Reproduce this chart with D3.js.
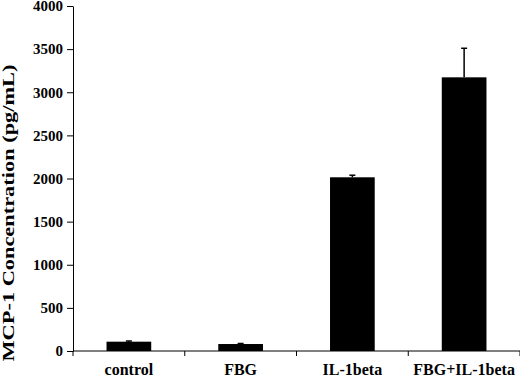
<!doctype html>
<html>

<head>
    <meta charset="utf-8">
    <title>MCP-1</title>
    <style>
    body { margin: 0; background: #fff; }
    text { font-family: "Liberation Serif", "Times New Roman", serif; font-weight: bold; fill: #000; }
    </style>
    <script src="https://cdn.jsdelivr.net/npm/d3@7"></script>
</head>

<body>
    <svg width="520" height="378"></svg>
    <script>
    var categories = ["control", "FBG", "IL-1beta", "FBG+IL-1beta"];
    var means = [108, 81, 2014, 3173];
    var errors = [8, 6, 24, 337];
    var yTicks = [0, 500, 1000, 1500, 2000, 2500, 3000, 3500, 4000];

    var svg = d3.select("svg"),
        mLeft = 73, mRight = 520, mTop = 6, mBottom = 351;

    var x = d3.scaleBand()
        .domain(categories)
        .range([mLeft, mRight])
        .padding(0);

    var y = d3.scaleLinear()
        .domain([0, 4000])
        .range([mBottom, mTop]);

    var barW = x.bandwidth() * 0.4;

    var data = categories.map(function(c, i) { return { cat: c, v: means[i], e: errors[i] }; });

    // bars
    svg.selectAll("rect.bar")
        .data(data)
        .enter().append("rect")
        .attr("class", "bar")
        .attr("x", function(d) { return x(d.cat) + (x.bandwidth() - barW) / 2; })
        .attr("y", function(d) { return y(d.v); })
        .attr("width", barW)
        .attr("height", function(d) { return y(0) - y(d.v); })
        .attr("fill", "#000");

    // error bars (upper only)
    var eb = svg.selectAll("g.err")
        .data(data)
        .enter().append("g")
        .attr("class", "err")
        .attr("stroke", "#000")
        .attr("stroke-width", 1.5);

    eb.append("line")
        .attr("x1", function(d) { return x(d.cat) + x.bandwidth() / 2; })
        .attr("x2", function(d) { return x(d.cat) + x.bandwidth() / 2; })
        .attr("y1", function(d) { return y(d.v); })
        .attr("y2", function(d) { return y(d.v + d.e); });

    eb.append("line")
        .attr("x1", function(d) { return x(d.cat) + x.bandwidth() / 2 - 3; })
        .attr("x2", function(d) { return x(d.cat) + x.bandwidth() / 2 + 3; })
        .attr("y1", function(d) { return y(d.v + d.e); })
        .attr("y2", function(d) { return y(d.v + d.e); });

    // y axis
    var yAxis = svg.append("g")
        .attr("transform", "translate(" + mLeft + ",0)")
        .call(d3.axisLeft(y).tickValues(yTicks).tickFormat(d3.format("d")).tickSize(6).tickPadding(4).tickSizeOuter(0));
    yAxis.selectAll("text").style("font-size", "15px");

    // x axis: ticks between categories
    var xAxis = svg.append("g")
        .attr("transform", "translate(0," + mBottom + ")");
    xAxis.append("line")
        .attr("x1", mLeft).attr("x2", mRight)
        .attr("stroke", "#000");
    xAxis.selectAll("line.tk")
        .data(categories.concat([null]))
        .enter().append("line")
        .attr("class", "tk")
        .attr("x1", function(d, i) { return mLeft + i * x.step(); })
        .attr("x2", function(d, i) { return mLeft + i * x.step(); })
        .attr("y1", 0).attr("y2", 5)
        .attr("stroke", "#000");
    xAxis.selectAll("text.cat")
        .data(categories)
        .enter().append("text")
        .attr("class", "cat")
        .attr("x", function(d) { return x(d) + x.bandwidth() / 2; })
        .attr("y", 24)
        .attr("text-anchor", "middle")
        .style("font-size", "16px")
        .text(function(d) { return d; });

    svg.selectAll(".domain").attr("stroke", "#000");
    svg.selectAll(".tick line").attr("stroke", "#000");

    // y title
    svg.append("text")
        .attr("transform", "translate(14,213) rotate(-90)")
        .attr("text-anchor", "middle")
        .attr("textLength", 297)
        .attr("lengthAdjust", "spacingAndGlyphs")
        .style("font-size", "16px")
        .text("MCP-1 Concentration (pg/mL)");
    </script>
</body>

</html>
